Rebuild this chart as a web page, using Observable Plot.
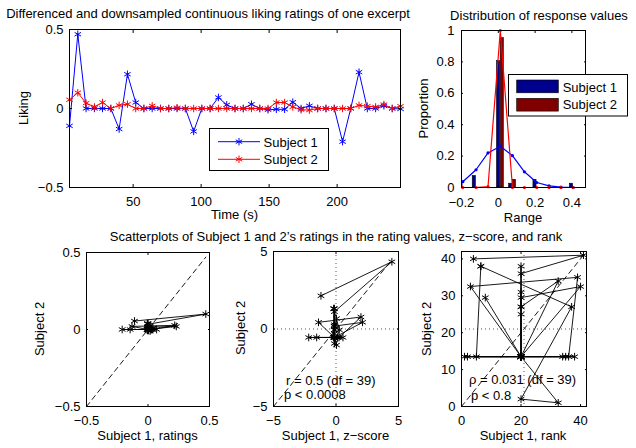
<!DOCTYPE html>
<html><head><meta charset="utf-8">
<script src="https://cdn.jsdelivr.net/npm/d3@7"></script>
<script src="https://cdn.jsdelivr.net/npm/@observablehq/plot@0.6"></script>
<style>
body{margin:0;background:#fff;}
#root{position:relative;width:636px;height:448px;overflow:hidden;background:#fff;font-family:"Liberation Sans",Arial,sans-serif;}
#root > svg{position:absolute;}
</style></head><body><div id="root"></div>
<script>
// ---- data ----
const timeSec = [3.2, 9.3, 15.4, 21.5, 27.5, 33.6, 39.7, 45.8, 51.9, 57.9, 64.0, 70.1, 76.2, 82.3, 88.4, 94.5, 100.5, 106.6, 112.7, 118.8, 124.9, 131.0, 137.0, 143.1, 149.2, 155.3, 161.4, 167.4, 173.5, 179.6, 185.7, 191.8, 197.9, 204.0, 210.0, 216.1, 222.2, 228.3, 234.4, 240.5, 246.6];
const subject1 = [-0.11, 0.47, 0, 0, 0, 0, -0.13, 0.217, 0.038, 0, 0, 0, 0, 0, 0, -0.145, 0, 0, 0.07, 0.023, 0, 0, 0.027, 0, -0.008, -0.005, -0.005, 0.04, 0, 0.017, 0, 0, 0, -0.21, 0, 0.23, 0, 0, 0.017, 0, -0.003];
const subject2 = [0.055, 0.1, 0.034, 0.01, 0.038, 0, 0.02, 0.027, 0, 0, 0.017, 0, 0, 0.005, 0, 0, 0, 0, 0, 0, 0, 0, 0, 0, 0, 0.038, 0.038, 0.01, -0.008, -0.01, 0, 0, 0, 0, 0, 0.02, 0.015, 0.01, 0.025, 0, 0.015];
const seriesNames = ["Subject 1", "Subject 2"];

const binCenters = [-0.193, -0.121, -0.056, 0.011, 0.077, 0.142, 0.209, 0.276, 0.341, 0.407];
const hist1 = [0.024, 0.073, 0, 0.805, 0.024, 0, 0.049, 0, 0, 0.024];
const hist2 = [0, 0, 0, 0.951, 0.049, 0, 0, 0, 0, 0];
const fit1 = [0.037, 0.113, 0.22, 0.263, 0.203, 0.1, 0.032, 0.01, 0.002, 0];
const fit2 = [0, 0, 0.005, 1.0, 0, 0, 0, 0, 0, 0];

const timeTicks = [50, 100, 150, 200];
const likingTicks = [-0.5, 0, 0.5];
const rangeTicks = [-0.2, 0, 0.2, 0.4];
const propTicks = [0, 0.2, 0.4, 0.6, 0.8, 1];
const ratingTicks = [-0.5, 0, 0.5];
const zTicks = [-5, 0, 5];
const rankXTicks = [0, 20, 40];
const rankYTicks = [0, 10, 20, 30, 40];

const titles = ["Differenced and downsampled continuous liking ratings of one excerpt",
  "Distribution of response values",
  "Scatterplots of Subject 1 and 2\u2019s ratings in the rating values, z\u2212score, and rank"];
const statsZ = ["r = 0.5 (df = 39)", "p < 0.0008"];
const statsRank = ["\u03c1 = 0.031 (df = 39)", "p < 0.8"];

// ---- derived (z-score and tied rank) ----
function zscore(a){ const m = d3.mean(a), s = d3.deviation(a); return a.map(v => (v - m) / s); }
function tiedRank(a){
  const idx = a.map((v,i)=>i).sort((i,j)=>a[i]-a[j]);
  const r = new Array(a.length); let k = 0;
  while (k < idx.length){ let m = k; while (m+1 < idx.length && a[idx[m+1]] === a[idx[k]]) m++;
    const avg = (k+m)/2 + 1; for (let q=k; q<=m; q++) r[idx[q]] = avg; k = m+1; }
  return r;
}
const z1 = zscore(subject1), z2 = zscore(subject2);
const r1 = tiedRank(subject1), r2 = tiedRank(subject2);

// ---- rendering ----
const root = document.getElementById("root");
const FONT = "Liberation Sans, Arial, Helvetica, sans-serif";
const base = {style:{fontFamily:FONT, fontSize:"13px", background:"transparent", color:"black", overflow:"visible"}};
const BLUE = "#0000ff", RED = "#ff0000", NAVY = "#00008f", MAROON = "#800000";
function fmt(d){ return d < 0 ? "\u2212" + Math.abs(d) : String(d); }
function boxAxes(xt, yt, tick, xPad = 9, yPad = 6){
  return [
    Plot.axisX({ticks: xt, anchor:"bottom", tickSize:-tick, tickPadding:xPad+tick, tickFormat:fmt, label:null}),
    Plot.axisX({ticks: xt, anchor:"top", tickSize:-tick, tickFormat:()=>"", label:null}),
    Plot.axisY({ticks: yt, anchor:"left", tickSize:-tick, tickPadding:yPad+tick, tickFormat:fmt, label:null}),
    Plot.axisY({ticks: yt, anchor:"right", tickSize:-tick, tickFormat:()=>"", label:null}),
    Plot.frame({stroke:"black", strokeWidth:1})
  ];
}
function place(el, left, top){ el.style.left = left+"px"; el.style.top = top+"px"; root.appendChild(el); }

const rows = timeSec.map((t,i)=>({t, s1: subject1[i], s2: subject2[i]}));
place(Plot.plot({...base, width:420, height:225, marginLeft:69, marginRight:20, marginTop:29, marginBottom:38,
  x:{domain:[timeSec[0], timeSec[timeSec.length-1]]}, y:{domain:[-0.5,0.5]},
  marks:[
    Plot.line(rows,{x:"t", y:"s1", stroke:BLUE, strokeWidth:1}),
    Plot.dot(rows,{x:"t", y:"s1", stroke:BLUE, symbol:"asterisk", r:3.5, strokeWidth:1}),
    Plot.line(rows,{x:"t", y:"s2", stroke:RED, strokeWidth:1}),
    Plot.dot(rows,{x:"t", y:"s2", stroke:RED, symbol:"asterisk", r:3.5, strokeWidth:1}),
    ...boxAxes(timeTicks, likingTicks, 3)
  ]}), 0, 0);

const hrows = binCenters.map((c,i)=>({c, p1:hist1[i], p2:hist2[i], f1:fit1[i], f2:fit2[i]}));
place(Plot.plot({...base, width:236, height:225, marginLeft:61, marginRight:51, marginTop:30, marginBottom:38,
  x:{domain:[-0.2, 0.474]}, y:{domain:[0,1]},
  marks:[
    Plot.rect(hrows.filter(d=>d.p1>0),{x1:d=>d.c-0.018, x2:d=>d.c-0.001, y1:0, y2:"p1", fill:NAVY, stroke:"black", strokeWidth:0.6, clip:true}),
    Plot.rect(hrows.filter(d=>d.p2>0),{x1:d=>d.c+0.002, x2:d=>d.c+0.019, y1:0, y2:"p2", fill:MAROON, stroke:"black", strokeWidth:0.6, clip:true}),
    Plot.line(hrows,{x:"c", y:"f1", stroke:BLUE, strokeWidth:1.2}),
    Plot.dot(hrows,{x:"c", y:"f1", fill:BLUE, r:1.6}),
    Plot.line(hrows,{x:"c", y:"f2", stroke:RED, strokeWidth:1.2}),
    Plot.dot(hrows,{x:"c", y:"f2", fill:RED, r:1.6}),
    ...boxAxes(rangeTicks, propTicks, 2, 10, 7)
  ]}), 400, 0);

function scatter(xs, ys, dom, xt, yt, guide, left, top, w, ml, mr, mt){
  const pts = xs.map((x,i)=>({x, y: ys[i]}));
  const hi = d3.max(xs);
  const diag = [{v: dom[0]}, {v: hi}];
  const marks = [];
  if (guide != null) {
    marks.push(Plot.ruleX([guide], {stroke:"#555", strokeDasharray:"1,3", strokeWidth:1}));
    marks.push(Plot.ruleY([guide], {stroke:"#555", strokeDasharray:"1,3", strokeWidth:1}));
  }
  marks.push(Plot.line(diag, {x:"v", y:"v", stroke:"black", strokeDasharray:"5,4", strokeWidth:0.9}));
  marks.push(Plot.line(pts, {x:"x", y:"y", stroke:"black", strokeWidth:0.9}));
  marks.push(Plot.dot(pts, {x:"x", y:"y", stroke:"black", symbol:"asterisk", r:3.6, strokeWidth:1}));
  marks.push(...boxAxes(xt, yt, 2));
  place(Plot.plot({...base, width:w, height:223, marginLeft:ml, marginRight:mr, marginTop:mt, marginBottom:42,
    x:{domain:dom}, y:{domain:dom}, marks}), left, top);
}
scatter(subject1, subject2, [-0.5,0.5], ratingTicks, ratingTicks, null, 0, 225, 215, 86, 6, 27);
scatter(z1, z2, [-5,5], zTicks, zTicks, 0, 210, 225, 200, 63, 12, 26);
scatter(r1, r2, [0,42], rankXTicks, rankYTicks, (subject1.length+1)/2, 420, 225, 216, 41, 50, 26);

// ---- overlay: titles, axis labels, legends, annotations ----
const ov = d3.create("svg").attr("width",636).attr("height",448)
  .style("left","0px").style("top","0px").style("font-family",FONT).style("font-size","13px");
function txt(s, x, y, anchor="middle", rot=false){
  const t = ov.append("text").text(s).attr("fill","black").attr("text-anchor",anchor);
  if (rot) t.attr("transform",`translate(${x},${y}) rotate(-90)`); else t.attr("x",x).attr("y",y);
}
txt(titles[0], 208, 18);
txt(titles[1], 539, 20);
txt(titles[2], 336, 241);
txt("Liking", 28, 108, "middle", true);
txt("Time (s)", 234.5, 218.5);
txt("Proportion", 427.5, 108.5, "middle", true);
txt("Range", 523, 221.5);
txt("Subject 2", 44, 329, "middle", true);
txt("Subject 2", 244.5, 328, "middle", true);
txt("Subject 2", 431, 329, "middle", true);
txt("Subject 1, ratings", 147.5, 439.5);
txt("Subject 1, z\u2212score", 335.5, 439.5);
txt("Subject 1, rank", 523, 439.5);
txt(statsZ[0], 286, 385, "start"); txt(statsZ[1], 284, 398.5, "start");
txt(statsRank[0], 469, 384, "start"); txt(statsRank[1], 471, 400, "start");

// legend 1
ov.append("rect").attr("x",209.5).attr("y",128.5).attr("width",119).attr("height",42).attr("fill","white").attr("stroke","black");
const star = d3.symbol(d3.symbolAsterisk, Math.PI*3.5*3.5)();
[[BLUE,141.7,146.5],[RED,159.3,164]].forEach(([c,ly,ty],i)=>{
  ov.append("line").attr("x1",218).attr("x2",260).attr("y1",ly).attr("y2",ly).attr("stroke",c);
  ov.append("path").attr("d",star).attr("transform",`translate(239,${ly})`).attr("stroke",c).attr("fill","none");
  txt(seriesNames[i], 263.5, ty, "start");
});
// legend 2
ov.append("rect").attr("x",508.5).attr("y",74.5).attr("width",119).attr("height",41.5).attr("fill","white").attr("stroke","black");
[[NAVY,80,91.5],[MAROON,98.3,109]].forEach(([c,ry,ty],i)=>{
  ov.append("rect").attr("x",516.7).attr("y",ry).attr("width",41.6).attr("height",12.8).attr("fill",c).attr("stroke","black").attr("stroke-width",0.6);
  txt(seriesNames[i], 562.7, ty, "start");
});
root.appendChild(ov.node());
</script>
</body></html>
